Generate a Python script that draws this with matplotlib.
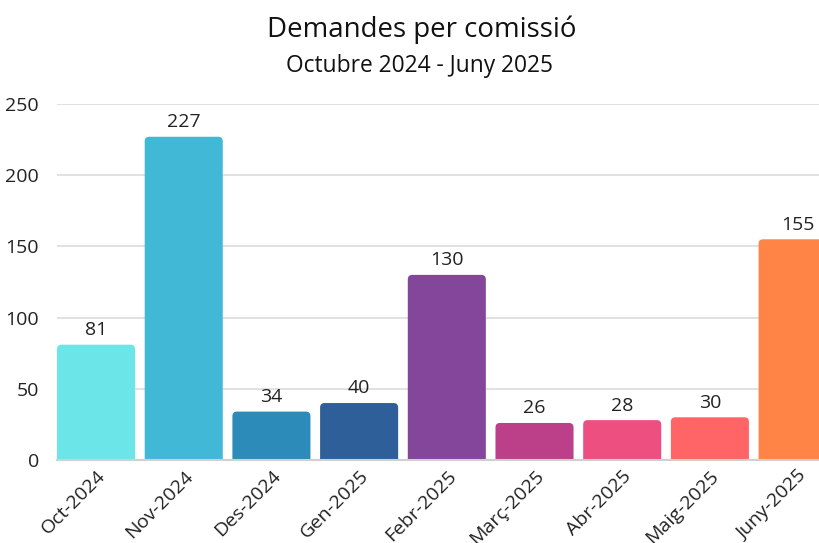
import matplotlib
matplotlib.use("Agg")
import matplotlib.pyplot as plt
from matplotlib.patches import FancyBboxPatch

plt.rcParams['font.family'] = ['Open Sans', 'DejaVu Sans']

months = ["Oct-2024", "Nov-2024", "Des-2024", "Gen-2025", "Febr-2025",
          "Març-2025", "Abr-2025", "Maig-2025", "Juny-2025"]
values = [81, 227, 34, 40, 130, 26, 28, 30, 155]
colors = ["#6ce5e8", "#41b8d5", "#2d8bba", "#2f5f98", "#84469a",
          "#bb3f89", "#ec4f80", "#ff6466", "#ff8446"]
yticks = [0, 50, 100, 150, 200, 250]

W, H = 819, 543
fig = plt.figure(figsize=(W / 100, H / 100), dpi=100)
ax_l, ax_b = 57 / W, 1 - 460 / H
ax_w, ax_h = 1 - 57 / W, (460 - 104) / H
ax = fig.add_axes([ax_l, ax_b, ax_w, ax_h])

xmin, xmax = -0.445, 8.244
ymin, ymax = 0, 250
ax.set_xlim(xmin, xmax)
ax.set_ylim(ymin, ymax)

bw = 0.89
x = list(range(len(months)))
# base bars (library geometry), rounded patches drawn on top
bars = ax.bar(x, values, width=bw, color=colors, zorder=3, alpha=0)

px_per_x = ax_w * W / (xmax - xmin)
px_per_y = ax_h * H / (ymax - ymin)
r_px = 4.5
for b, c in zip(bars, colors):
    x0, w, h = b.get_x(), b.get_width(), b.get_height()
    ext = 10 / px_per_y
    p = FancyBboxPatch((x0, -ext), w, h + ext,
                       boxstyle=f"round,pad=0,rounding_size={r_px / px_per_x}",
                       mutation_aspect=px_per_x / px_per_y,
                       facecolor=c, edgecolor="none", zorder=3, clip_on=True)
    ax.add_patch(p)

for xi, v in zip(x, values):
    ax.annotate(str(v), (xi, v), xytext=(0, 4), textcoords="offset points",
                ha="center", va="bottom", fontsize=14, color="#222222", zorder=4)

ax.set_yticks(yticks)
ax.set_yticklabels([str(t) for t in yticks], fontsize=14, color="#222222")
ax.yaxis.grid(True, color="#dcdcdc", linewidth=1.2, zorder=0)
ax.set_axisbelow(True)
for s in ["top", "right", "left"]:
    ax.spines[s].set_visible(False)
ax.spines["bottom"].set_color("#d0d0d0")
ax.spines["bottom"].set_linewidth(1.5)
ax.spines["bottom"].set_zorder(4)
ax.tick_params(axis="y", length=0, pad=13)
ax.tick_params(axis="x", length=0, pad=5)
ax.set_xticks(x)
ax.set_xticklabels(months, rotation=45, ha="right", rotation_mode="anchor",
                   fontsize=14, color="#222222")
for lbl in ax.get_xticklabels():
    lbl.set_va("top")

fig.text(422 / W, 1 - 30 / H, "Demandes per comissió", ha="center", va="center",
         fontsize=19.9, color="#111111")
fig.text(420 / W, 1 - 66 / H, "Octubre 2024 - Juny 2025", ha="center", va="center",
         fontsize=16.4, color="#111111")

fig.savefig("out.png", dpi=100)
